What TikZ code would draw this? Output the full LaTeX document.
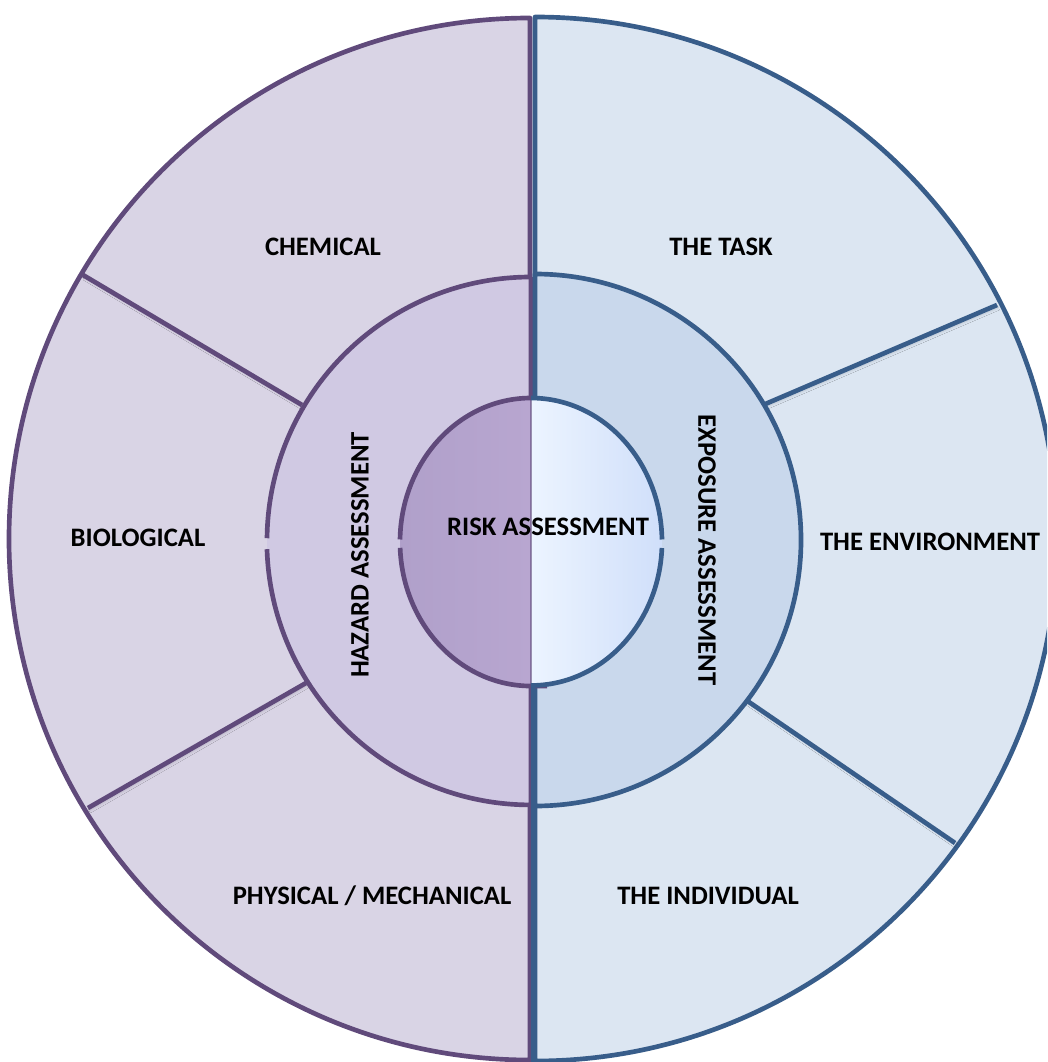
\documentclass[tikz,border=0pt]{standalone}
\usepackage{fontspec}
\setmainfont{Carlito}
\usetikzlibrary{shadows.blur}
\definecolor{hazLine}{RGB}{96,74,123}
\definecolor{expLine}{RGB}{56,93,138}
\definecolor{hazOuter}{RGB}{217,212,229}
\definecolor{hazMiddle}{RGB}{208,201,227}
\definecolor{expOuter}{RGB}{220,230,242}
\definecolor{expMiddle}{RGB}{201,216,236}
\tikzset{
  lbl/.style={inner sep=0.75pt,font=\fontsize{20}{24}\selectfont\bfseries,text=black},
  hazpart/.style={draw=hazLine,line width=3.5pt,line join=round},
  exppart/.style={draw=expLine,line width=3.5pt,line join=round},
  divider/.style={line width=3.5pt,blur shadow={shadow xshift=1pt,shadow yshift=-2pt,shadow blur steps=6,shadow opacity=15}}
}

\begin{document}
\begin{tikzpicture}[x=0.75pt,y=0.75pt,yscale=-1,xscale=1]
\useasboundingbox (0,0) rectangle (1047,1062);
\clip (0,0) rectangle (1047,1062);

%Shape: Outer half, hazards
\draw [hazpart,fill=hazOuter] (530,18) arc [start angle=270,end angle=90,radius=521] -- cycle ;
%Shape: Outer half, exposure
\draw [exppart,fill=expOuter] (535,17) arc [start angle=-90,end angle=90,radius=522] -- cycle ;

%Straight Lines: dividers
\draw [divider,color=hazLine] (83,275) -- (302,405) ;
\draw [divider,color=hazLine] (306,683) -- (88,808) ;
\draw [divider,color=expLine] (997,305) -- (763,405) ;
\draw [divider,color=expLine] (746,700) -- (955,843) ;

%Shape: Middle half, hazards
\fill [hazMiddle] (531,277) arc [start angle=270,end angle=90,radius=264] -- cycle ;
\draw [hazpart] (531,277) arc [start angle=270,end angle=180.6,radius=264] ;
\draw [hazpart] (266.99,549.2) arc [start angle=178.2,end angle=90,radius=264] -- (531,277) ;
%Shape: Middle half, exposure
\draw [exppart,fill=expMiddle] (535,274) arc [start angle=-90,end angle=90,radius=266] -- cycle ;

%Shape: Inner circle, two shaded halves
\shade [left color={rgb,255:red,176;green,160;blue,202},right color={rgb,255:red,184;green,166;blue,208}] (531,398) arc [start angle=270,end angle=90,x radius=131,y radius=144] -- cycle ;
\shade [left color={rgb,255:red,236;green,244;blue,255},right color={rgb,255:red,208;green,223;blue,250}] (531,398) arc [start angle=-90,end angle=90,x radius=131,y radius=144] -- cycle ;
\draw [hazLine,line width=0.9pt,opacity=0.6] (531,398) -- (531,686) ;
%Arcs: inner outline with small gaps
\draw [hazpart] (531,398) arc [start angle=270,end angle=181,x radius=131,y radius=144] ;
\draw [hazpart] (400.1,547.8) arc [start angle=177.7,end angle=90,x radius=131,y radius=144] -- (547,686) ;
\draw [exppart] (531,398) arc [start angle=-90,end angle=-1,x radius=131,y radius=144] ;
\draw [exppart] (661.9,548) arc [start angle=2.6,end angle=90,x radius=131,y radius=144] ;
\draw [exppart] (533,688) -- (533,1062) ;

% Text Node
\node [lbl] (chemical) at (323,247) {CHEMICAL};
% Text Node
\node [lbl] (biological) at (138,538) {BIOLOGICAL};
% Text Node
\node [lbl] (physical) at (372,896) {PHYSICAL / MECHANICAL};
% Text Node
\node [lbl] (task) at (721,247) {THE TASK};
% Text Node
\node [lbl] (environment) at (930,542) {THE ENVIRONMENT};
% Text Node
\node [lbl] (individual) at (708,896) {THE INDIVIDUAL};
% Text Node
\node [lbl,rotate=90] (hazard) at (360,555) {HAZARD ASSESSMENT};
% Text Node
\node [lbl,rotate=-90] (exposure) at (707,550) {EXPOSURE ASSESSMENT};
% Text Node
\node [lbl] (risk) at (548,527) {RISK ASSESSMENT};

\end{tikzpicture}
\end{document}
